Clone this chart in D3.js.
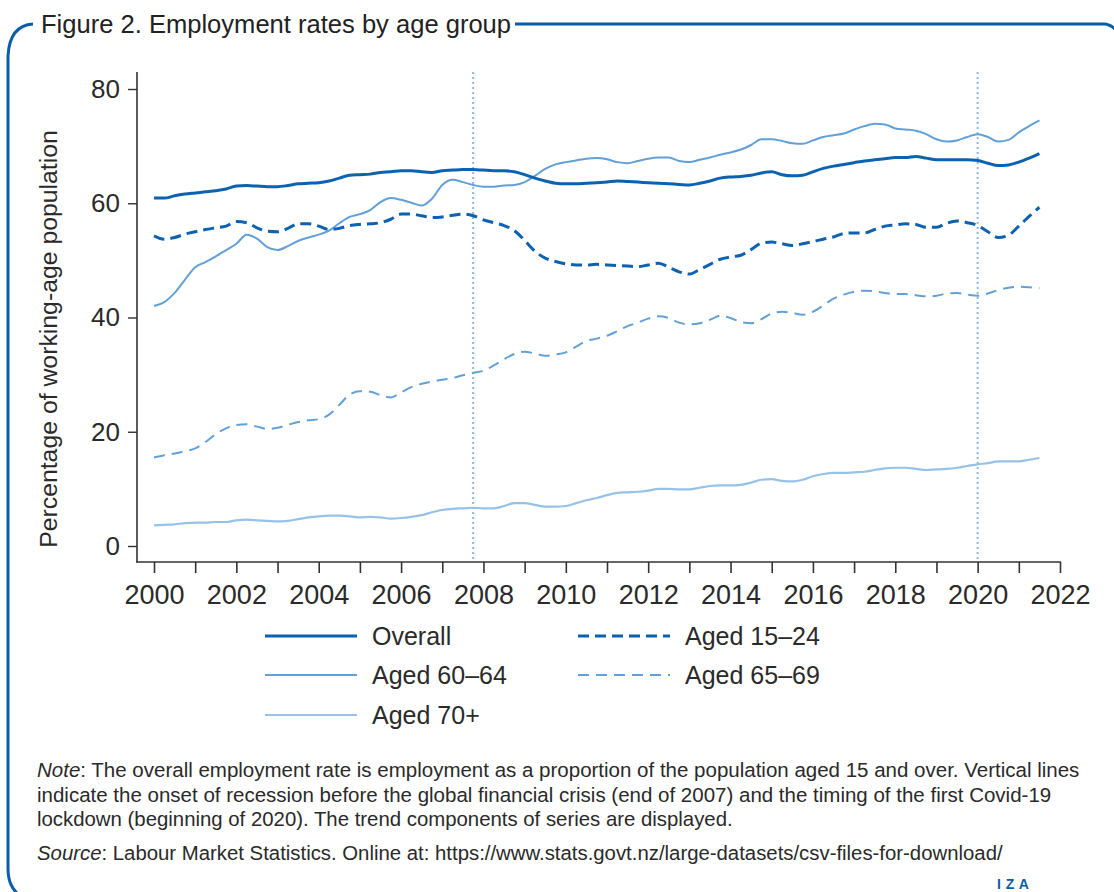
<!DOCTYPE html>
<html>
<head>
<meta charset="utf-8">
<script src="https://cdn.jsdelivr.net/npm/d3@7"></script>
<style>
  html, body { margin: 0; padding: 0; background: #fff; }
  svg { display: block; }
  text { font-family: "Liberation Sans", Arial, Helvetica, sans-serif; }
</style>
</head>
<body>
<svg id="chart" width="1114" height="892"></svg>
<script>
// ---------------- DATA (quarterly, 2000Q1 .. 2021Q3) ----------------
const startYear = 2000;
const stepYears = 0.25;

const overall = [60.9,60.9,61.3,61.6,61.8,62.0,62.2,62.5,63.0,63.1,63.0,62.9,62.9,63.1,63.4,63.5,
  63.6,63.9,64.4,64.9,65.0,65.1,65.4,65.5,65.7,65.7,65.5,65.4,65.7,65.8,65.9,65.9,
  65.8,65.7,65.7,65.5,65.0,64.4,63.9,63.5,63.4,63.4,63.5,63.6,63.7,63.9,63.8,63.7,
  63.6,63.5,63.4,63.3,63.2,63.5,63.9,64.4,64.6,64.7,64.9,65.3,65.5,65.0,64.8,64.9,
  65.5,66.1,66.5,66.8,67.1,67.4,67.6,67.8,68.0,68.0,68.2,67.9,67.6,67.6,67.6,67.6,
  67.5,67.0,66.6,66.7,67.2,67.9,68.7];

const aged1524 = [54.3,53.7,54.0,54.6,55.0,55.4,55.7,56.0,56.8,56.6,55.7,55.1,55.0,55.6,56.4,56.4,
  56.0,55.4,55.6,56.1,56.3,56.4,56.6,57.2,58.1,58.1,57.8,57.5,57.6,57.9,58.1,57.8,
  57.1,56.6,56.1,55.2,53.5,51.6,50.4,49.8,49.4,49.2,49.2,49.3,49.2,49.1,49.0,48.9,
  49.2,49.5,48.8,48.0,47.6,48.4,49.3,50.2,50.6,50.9,51.9,53.0,53.2,52.9,52.6,52.9,
  53.3,53.7,54.1,54.7,54.8,54.8,55.4,56.0,56.2,56.4,56.3,55.8,55.8,56.5,56.9,56.6,
  56.1,55.0,54.0,54.4,56.0,57.7,59.3];

const aged6064 = [42.0,42.7,44.3,46.6,48.8,49.7,50.7,51.8,52.9,54.5,53.8,52.3,51.8,52.5,53.4,54.0,
  54.5,55.2,56.5,57.6,58.1,58.8,60.2,60.9,60.6,60.1,59.6,60.8,63.2,64.1,63.7,63.2,
  62.9,62.9,63.1,63.2,63.7,64.8,66.0,66.8,67.2,67.5,67.8,67.9,67.7,67.2,67.0,67.4,
  67.8,68.0,68.0,67.4,67.2,67.6,68.0,68.5,68.9,69.4,70.2,71.2,71.2,70.9,70.5,70.4,
  71.0,71.6,71.9,72.2,72.9,73.5,73.9,73.8,73.1,72.9,72.7,72.1,71.2,70.8,71.0,71.6,
  72.1,71.6,70.8,71.1,72.4,73.5,74.5];

const aged6569 = [15.5,15.9,16.2,16.6,17.1,18.2,19.6,20.6,21.2,21.3,20.9,20.5,20.7,21.2,21.7,22.0,
  22.2,23.0,24.7,26.5,27.1,27.0,26.4,26.0,26.9,27.8,28.4,28.8,29.1,29.4,29.9,30.3,
  30.7,31.6,32.7,33.6,34.0,33.7,33.3,33.5,33.9,34.9,35.9,36.3,36.8,37.6,38.5,39.1,
  39.8,40.2,39.9,39.1,38.8,39.0,39.6,40.3,39.9,39.2,39.0,39.7,40.7,41.0,40.8,40.5,
  41.0,42.1,43.3,44.0,44.5,44.7,44.6,44.3,44.1,44.1,43.9,43.7,43.8,44.2,44.3,44.0,
  43.8,44.2,44.8,45.2,45.4,45.3,45.1];

const aged70plus = [3.6,3.7,3.8,4.0,4.1,4.1,4.2,4.2,4.5,4.6,4.5,4.4,4.3,4.4,4.7,5.0,
  5.2,5.3,5.3,5.2,5.0,5.1,5.0,4.8,4.9,5.1,5.4,5.9,6.3,6.5,6.6,6.7,
  6.6,6.6,7.0,7.5,7.5,7.2,6.9,6.9,7.0,7.5,8.0,8.4,8.9,9.3,9.4,9.5,
  9.7,10.0,10.0,9.9,9.9,10.2,10.5,10.6,10.6,10.7,11.1,11.6,11.7,11.4,11.3,11.6,
  12.2,12.6,12.8,12.8,12.9,13.0,13.3,13.6,13.7,13.7,13.5,13.3,13.4,13.5,13.7,14.0,
  14.3,14.5,14.8,14.8,14.8,15.1,15.4];

const seriesNames = ["Overall", "Aged 15–24", "Aged 60–64", "Aged 65–69", "Aged 70+"];
const seriesValues = [overall, aged1524, aged6064, aged6569, aged70plus];

const yTicks = [0, 20, 40, 60, 80];
const xTickYears = d3.range(2000, 2023, 1);
const xLabelYears = d3.range(2000, 2023, 2);
const eventLines = [2007.75, 2020.0];

const titleText = "Figure 2. Employment rates by age group";
const yTitle = "Percentage of working-age population";
const noteLines = [
  [["Note", true], [": The overall employment rate is employment as a proportion of the population aged 15 and over. Vertical lines", false]],
  [["indicate the onset of recession before the global financial crisis (end of 2007) and the timing of the first Covid-19", false]],
  [["lockdown (beginning of 2020). The trend components of series are displayed.", false]],
  [["Source", true], [": Labour Market Statistics. Online at: https://www.stats.govt.nz/large-datasets/csv-files-for-download/", false]]
];

// ---------------- STYLES ----------------
const dark = "#0b62b1", mid = "#62a0d8", light = "#96c2e8", frame = "#0a5ea8";
const styles = [
  {color: dark,  width: 3.0, dash: null},
  {color: dark,  width: 3.0, dash: "11,6"},
  {color: mid,   width: 2.0, dash: null},
  {color: mid,   width: 2.0, dash: "11,7"},
  {color: light, width: 2.2, dash: null}
];

// ---------------- DRAW ----------------
const svg = d3.select("#chart");

function fitText(sel, targetWidth) {
  const node = sel.node();
  const fs = parseFloat(sel.attr("font-size"));
  const w = node.getComputedTextLength();
  if (w > 0) sel.attr("font-size", (fs * targetWidth / w).toFixed(2));
  return sel;
}

// Frame
svg.append("path")
  .attr("d", "M33,24 C17,25 9,36 8,56 L8,868 C8,882 12,889 20,896")
  .attr("fill", "none").attr("stroke", frame).attr("stroke-width", 3);
svg.append("path")
  .attr("d", "M515,24 L1104,24 C1109,24 1112,26 1116,30")
  .attr("fill", "none").attr("stroke", frame).attr("stroke-width", 3);

// Title
fitText(svg.append("text").attr("x", 41).attr("y", 33).attr("font-size", 26)
  .attr("fill", "#222").text(titleText), 470);

// Scales
const x = d3.scaleLinear().domain([2000, 2022]).range([154, 1060]);
const y = d3.scaleLinear().domain([0, 80]).range([546, 89]);
const axisLeftX = 137, axisBottomY = 562, plotTop = 72;

// Event lines
svg.append("g").selectAll("line").data(eventLines).join("line")
  .attr("x1", d => x(d)).attr("x2", d => x(d))
  .attr("y1", plotTop).attr("y2", axisBottomY)
  .attr("stroke", "#8cb9e1").attr("stroke-width", 2).attr("stroke-dasharray", "2,3");

// Y axis
const yAxis = d3.axisLeft(y).tickValues(yTicks).tickSize(9).tickPadding(8).tickFormat(d3.format("d"));
const gy = svg.append("g").attr("transform", `translate(${axisLeftX},0)`).call(yAxis);
gy.select(".domain").remove();
gy.append("line").attr("x1", 0).attr("x2", 0).attr("y1", plotTop).attr("y2", axisBottomY + 0.5)
  .attr("stroke", "#333").attr("stroke-width", 1.6);
gy.selectAll(".tick line").attr("stroke", "#333").attr("stroke-width", 1.4);
gy.selectAll(".tick text").attr("font-size", 26).attr("fill", "#2a2a2a")
  .attr("font-family", "'Liberation Sans', Arial, sans-serif");

// X axis
const xAxis = d3.axisBottom(x).tickValues(xTickYears).tickSize(11).tickPadding(12)
  .tickFormat(d => xLabelYears.includes(d) ? String(d) : "");
const gx = svg.append("g").attr("transform", `translate(0,${axisBottomY})`).call(xAxis);
gx.select(".domain").remove();
gx.append("line").attr("x1", axisLeftX - 0.8).attr("x2", x(2022) + 0.8).attr("y1", 0).attr("y2", 0)
  .attr("stroke", "#333").attr("stroke-width", 1.6);
gx.selectAll(".tick line").attr("stroke", "#333").attr("stroke-width", 1.6);
gx.selectAll(".tick text").attr("font-size", 27).attr("fill", "#2a2a2a")
  .attr("font-family", "'Liberation Sans', Arial, sans-serif");

// Y title
const yt = svg.append("text").attr("transform", "translate(57,339) rotate(-90)")
  .attr("text-anchor", "middle").attr("font-size", 24).attr("fill", "#2a2a2a").text(yTitle);
fitText(yt, 418);

// Lines
const line = d3.line()
  .x((d, i) => x(startYear + i * stepYears))
  .y(d => y(d))
  .curve(d3.curveMonotoneX);

const drawOrder = [4, 3, 2, 1, 0];
svg.append("g").selectAll("path").data(drawOrder).join("path")
  .attr("d", k => line(seriesValues[k]))
  .attr("fill", "none")
  .attr("stroke", k => styles[k].color)
  .attr("stroke-width", k => styles[k].width)
  .attr("stroke-dasharray", k => styles[k].dash)
  .attr("stroke-linejoin", "round");

// Legend
const legendPos = [
  {x: 265, y: 636}, {x: 578, y: 636},
  {x: 265, y: 675}, {x: 578, y: 675},
  {x: 265, y: 715}
];
const lg = svg.append("g");
seriesNames.forEach((name, k) => {
  const p = legendPos[k];
  lg.append("line").attr("x1", p.x).attr("x2", p.x + 92).attr("y1", p.y).attr("y2", p.y)
    .attr("stroke", styles[k].color).attr("stroke-width", styles[k].width)
    .attr("stroke-dasharray", styles[k].dash);
  lg.append("text").attr("x", p.x + 107).attr("y", p.y).attr("dy", "0.35em")
    .attr("font-size", 25).attr("fill", "#2a2a2a").text(name);
});

// Notes
const noteY = [777, 802, 826, 860];
const noteW = [1043, 1014, 696, 966];
noteLines.forEach((parts, i) => {
  const t = svg.append("text").attr("x", 37).attr("y", noteY[i]).attr("font-size", 19).attr("fill", "#2a2a2a");
  parts.forEach(([s, it]) => {
    t.append("tspan").attr("font-style", it ? "italic" : "normal").text(s);
  });
  fitText(t, noteW[i]);
});

// IZA mark
svg.append("text").attr("x", 997).attr("y", 889).attr("font-size", 14)
  .attr("font-weight", "bold").attr("letter-spacing", 0.5).attr("fill", frame).text("I Z A");
</script>
</body>
</html>
